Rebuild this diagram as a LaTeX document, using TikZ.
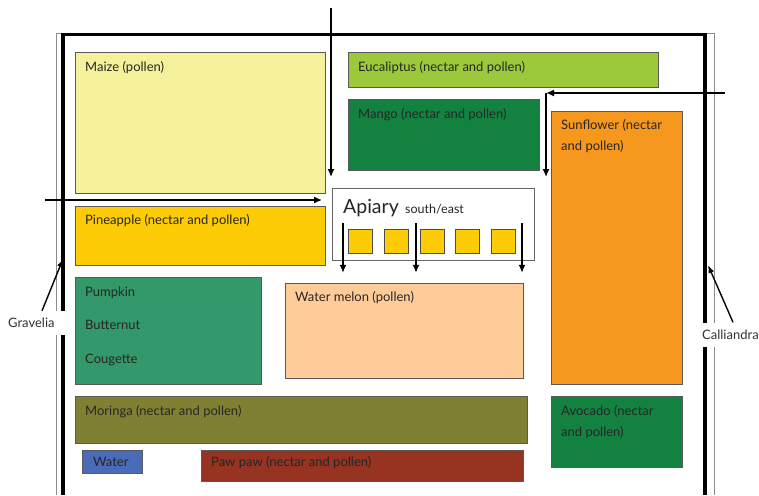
\documentclass[tikz,border=0pt]{standalone}
\usepackage{fontspec}
\setmainfont{Lato}
\usetikzlibrary{positioning, calc, arrows.meta}

\definecolor{maize}{HTML}{F5F19B}
\definecolor{pine}{HTML}{FDCC07}
\definecolor{euca}{HTML}{9CC93B}
\definecolor{mango}{HTML}{138241}
\definecolor{sunfl}{HTML}{F7981E}
\definecolor{pumpk}{HTML}{33996A}
\definecolor{melon}{HTML}{FFCC99}
\definecolor{moringa}{HTML}{808033}
\definecolor{water}{HTML}{4A6CB8}
\definecolor{pawpaw}{HTML}{963421}

\tikzset{
    plot/.style={draw=black!65, line width=0.8pt, anchor=north west, inner sep=0pt},
    crop/.style={font=\fontsize{13}{21}\selectfont, text=black!85, anchor=base west, inner sep=0pt, align=left},
    hive/.style={draw=black!70, line width=0.7pt, fill=pine, minimum size=24pt, inner sep=0pt},
    flow/.style={line width=1.4pt, -{Latex[length=8pt,width=7pt]}},
    hedge/.style={font=\fontsize{13}{15}\selectfont, text=black!80, fill=white, inner sep=0pt, minimum height=24pt}
}

\begin{document}
\begin{tikzpicture}[x=1pt, y=-1pt]
    \useasboundingbox[fill=white] (0,0) rectangle (759,495);

    % field borders
    \draw[black!45, line width=0.8pt] (56,495) -- (56,33) -- (714,33) -- (714,495);
    \draw[line width=3.2pt] (63,495) -- (63,34.5) -- (705,34.5) -- (705,495);

    % plots
    \node[plot, fill=maize, minimum width=250pt, minimum height=141pt] (maize) at (75,52) {};
    \node[plot, fill=pine, minimum width=250pt, minimum height=59pt] (pineapple) at (75,206) {};
    \node[plot, fill=euca, minimum width=310pt, minimum height=35pt] (euca) at (348,52) {};
    \node[plot, fill=mango, minimum width=191pt, minimum height=71pt] (mango) at (348,99) {};
    \node[plot, fill=sunfl, minimum width=131pt, minimum height=273pt] (sunflower) at (551,111) {};
    \node[plot, fill=mango, minimum width=131pt, minimum height=71pt] (avocado) at (551,396) {};
    \node[plot, fill=pumpk, minimum width=186pt, minimum height=107pt] (pumpkin) at (75,277) {};
    \node[plot, fill=melon, minimum width=238pt, minimum height=95pt] (melon) at (285,283) {};
    \node[plot, fill=moringa, minimum width=452pt, minimum height=47pt] (moringa) at (75,396) {};
    \node[plot, fill=water, minimum width=60pt, minimum height=23pt] (water) at (82,450) {};
    \node[plot, fill=pawpaw, minimum width=322pt, minimum height=31pt] (pawpaw) at (201,450) {};
    \node[plot, fill=white, draw=black!60, minimum width=202pt, minimum height=72pt] (apiary) at (332,188) {};

    % plot names
    \node[crop] (t-maize) at ($(maize.north west)+(10,19)$) {Maize (pollen)};
    \node[crop] (t-pine) at ($(pineapple.north west)+(10,18)$) {Pineapple (nectar and pollen)};
    \node[crop] (t-euca) at ($(euca.north west)+(10,19)$) {Eucaliptus (nectar and pollen)};
    \node[crop] (t-mango) at ($(mango.north west)+(10,19)$) {Mango (nectar and pollen)};
    \node[crop] (t-sunfl) at ($(sunflower.north west)+(10,39.5)$) {Sunflower (nectar\\and pollen)};
    \node[crop] (t-avo) at ($(avocado.north west)+(10,40)$) {Avocado (nectar\\and pollen)};
    \node[crop] (t-pump) at ($(pumpkin.north west)+(10,19)$) {Pumpkin};
    \node[crop] (t-butt) at ($(pumpkin.north west)+(10,52.5)$) {Butternut};
    \node[crop] (t-coug) at ($(pumpkin.north west)+(10,86)$) {Cougette};
    \node[crop] (t-melon) at ($(melon.north west)+(10,18.5)$) {Water melon (pollen)};
    \node[crop] (t-mor) at ($(moringa.north west)+(10,19)$) {Moringa (nectar and pollen)};
    \node[crop] (t-water) at ($(water.north west)+(11,16.5)$) {Water};
    \node[crop] (t-paw) at ($(pawpaw.north west)+(10,16.5)$) {Paw paw (nectar and pollen)};
    \node[crop, font=\fontsize{19.5}{22}\selectfont] (t-api) at ($(apiary.north west)+(11,25)$) {Apiary};
    \node[crop, font=\fontsize{12.5}{14}\selectfont, right=6pt of t-api.base east, anchor=base west] (t-se) {south/east};

    % hives
    \foreach \i in {0,...,4}
        \node[hive] (hive-\i) at (360.5+35.7*\i, 241) {};

    % bee flight lines
    \coordinate (north in) at (331,8);
    \coordinate (west in) at (45,200);
    \coordinate (east in) at (725,93);
    \coordinate (corner) at (546,93);
    \draw[flow] (north in) -- ($(apiary.north -| north in)+(0,-11)$);
    \draw[flow] (west in) -- ($(apiary.west |- west in)+(-10,0)$);
    \draw[flow] (east in) -- (corner);
    \draw[flow] (corner) -- ($(corner |- apiary.north)+(0,-11)$);
    \foreach \x in {343,416,522}
        \draw[flow] (\x,223) -- ($(\x,0 |- apiary.south)+(0,12)$);

    % hedges
    \node[hedge, anchor=west, text width=58pt] (gravelia) at (8,323) {Gravelia};
    \node[hedge, anchor=west, text width=60pt] (calliandra) at (702,334.5) {Calliandra};
    \coordinate (grav end) at (63,259);
    \coordinate (call end) at (708,265);
    \draw[line width=1.4pt, -{Latex[length=8pt,width=6pt]}] ($(gravelia.north west)+(34,0)$) -- (grav end);
    \draw[line width=1.4pt, -{Latex[length=8pt,width=6pt]}] ($(calliandra.north west)+(31,0)$) -- (call end);
\end{tikzpicture}
\end{document}
